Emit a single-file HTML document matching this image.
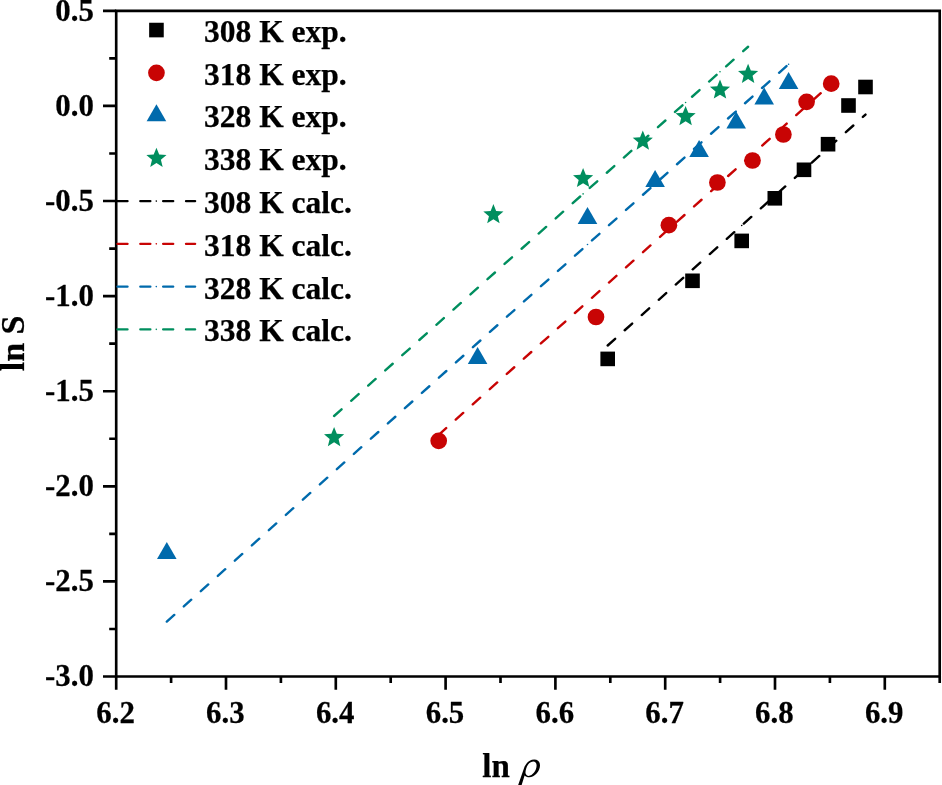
<!DOCTYPE html><html><head><meta charset="utf-8"><style>html,body{margin:0;padding:0;background:#fff;overflow:hidden;}svg{display:block;will-change:transform}</style></head><body>
<svg width="942" height="785" viewBox="0 0 942 785">
<rect width="942" height="785" fill="#fff"/>
<path d="M116.20 10.80H939.70V676.50H116.20Z" fill="none" stroke="#000" stroke-width="2.65" stroke-linejoin="miter"/>
<path d="M116.20 676.50V689.70M226.00 676.50V689.70M335.80 676.50V689.70M445.60 676.50V689.70M555.40 676.50V689.70M665.20 676.50V689.70M775.00 676.50V689.70M884.80 676.50V689.70M171.10 676.50V682.90M280.90 676.50V682.90M390.70 676.50V682.90M500.50 676.50V682.90M610.30 676.50V682.90M720.10 676.50V682.90M829.90 676.50V682.90M939.70 676.50V682.90M116.20 10.80H103.00M116.20 105.90H103.00M116.20 201.00H103.00M116.20 296.10H103.00M116.20 391.20H103.00M116.20 486.30H103.00M116.20 581.40H103.00M116.20 676.50H103.00M116.20 58.35H109.20M116.20 153.45H109.20M116.20 248.55H109.20M116.20 343.65H109.20M116.20 438.75H109.20M116.20 533.85H109.20M116.20 628.95H109.20" stroke="#000" stroke-width="2.65" fill="none"/>
<g font-family="'Liberation Serif', serif" font-weight="bold" font-size="32.5" fill="#000" stroke="#000" stroke-width="0.25" stroke-linejoin="round">
<text transform="translate(93.9 20.60) scale(0.95 1)" text-anchor="end">0.5</text>
<text transform="translate(93.9 115.70) scale(0.95 1)" text-anchor="end">0.0</text>
<text transform="translate(93.9 210.80) scale(0.95 1)" text-anchor="end">-0.5</text>
<text transform="translate(93.9 305.90) scale(0.95 1)" text-anchor="end">-1.0</text>
<text transform="translate(93.9 401.00) scale(0.95 1)" text-anchor="end">-1.5</text>
<text transform="translate(93.9 496.10) scale(0.95 1)" text-anchor="end">-2.0</text>
<text transform="translate(93.9 591.20) scale(0.95 1)" text-anchor="end">-2.5</text>
<text transform="translate(93.9 686.30) scale(0.95 1)" text-anchor="end">-3.0</text>
<text transform="translate(115.60 723.4) scale(0.95 1)" text-anchor="middle">6.2</text>
<text transform="translate(225.40 723.4) scale(0.95 1)" text-anchor="middle">6.3</text>
<text transform="translate(335.20 723.4) scale(0.95 1)" text-anchor="middle">6.4</text>
<text transform="translate(445.00 723.4) scale(0.95 1)" text-anchor="middle">6.5</text>
<text transform="translate(554.80 723.4) scale(0.95 1)" text-anchor="middle">6.6</text>
<text transform="translate(664.60 723.4) scale(0.95 1)" text-anchor="middle">6.7</text>
<text transform="translate(774.40 723.4) scale(0.95 1)" text-anchor="middle">6.8</text>
<text transform="translate(884.20 723.4) scale(0.95 1)" text-anchor="middle">6.9</text>
</g>
<text transform="translate(24.2 371.3) rotate(-90)" font-family="'Liberation Serif', serif" font-weight="bold" font-size="34" stroke="#000" stroke-width="0.25" stroke-linejoin="round">ln S</text>
<text x="482.3" y="776.8" font-family="'Liberation Serif', serif" font-weight="bold" font-size="33" stroke="#000" stroke-width="0.25" stroke-linejoin="round">ln</text>
<path fill-rule="evenodd" fill="#000" d="M518.0 785.5L523.9 768.5C525.5 763.5 529.5 759.6 534.2 759.6C538 759.6 540 762 540 765.5C540 771 534.5 777.3 529.3 777.3C527.3 777.3 525.6 776.6 524.6 775.5L521.5 785.5Z M533.5 761.4C530 761.4 527.5 764.5 526.3 768.3C525.6 770.5 525.3 772.3 525.6 773.5C526.2 775.2 527.3 775.9 528.6 775.9C532.5 775.9 536.6 770.5 536.6 765.6C536.6 763 535.3 761.4 533.5 761.4Z"/>
<line x1="607.70" y1="345.50" x2="865.50" y2="114.59" stroke="#000000" stroke-width="2.4" stroke-dasharray="10.000 12.840" stroke-linecap="round"/><circle cx="692.50" cy="269.54" r="0.8" fill="#000000"/><circle cx="741.70" cy="225.48" r="0.8" fill="#000000"/><circle cx="774.80" cy="195.83" r="0.8" fill="#000000"/><circle cx="804.00" cy="169.67" r="0.8" fill="#000000"/><circle cx="828.05" cy="148.13" r="0.8" fill="#000000"/>
<line x1="438.70" y1="434.80" x2="831.20" y2="83.83" stroke="#c80404" stroke-width="2.4" stroke-dasharray="10.000 12.840" stroke-linecap="round"/><circle cx="668.90" cy="228.96" r="0.8" fill="#c80404"/><circle cx="806.60" cy="105.82" r="0.8" fill="#c80404"/>
<line x1="166.80" y1="621.60" x2="788.60" y2="64.22" stroke="#006aac" stroke-width="2.4" stroke-dasharray="10.000 12.840" stroke-linecap="round"/><circle cx="587.50" cy="244.48" r="0.8" fill="#006aac"/><circle cx="655.10" cy="183.89" r="0.8" fill="#006aac"/><circle cx="736.20" cy="111.19" r="0.8" fill="#006aac"/><circle cx="788.60" cy="64.22" r="0.8" fill="#006aac"/>
<line x1="334.10" y1="416.00" x2="748.10" y2="46.75" stroke="#008e5e" stroke-width="2.4" stroke-dasharray="10.000 12.840" stroke-linecap="round"/><circle cx="583.10" cy="193.92" r="0.8" fill="#008e5e"/><circle cx="685.60" cy="102.50" r="0.8" fill="#008e5e"/><circle cx="720.00" cy="71.82" r="0.8" fill="#008e5e"/>
<rect x="600.40" y="351.60" width="14.6" height="14.6" fill="#000000"/>
<rect x="685.20" y="273.50" width="14.6" height="14.6" fill="#000000"/>
<rect x="734.40" y="233.60" width="14.6" height="14.6" fill="#000000"/>
<rect x="767.50" y="191.00" width="14.6" height="14.6" fill="#000000"/>
<rect x="796.70" y="162.50" width="14.6" height="14.6" fill="#000000"/>
<rect x="820.75" y="136.90" width="14.6" height="14.6" fill="#000000"/>
<rect x="841.20" y="98.20" width="14.6" height="14.6" fill="#000000"/>
<rect x="858.20" y="79.70" width="14.6" height="14.6" fill="#000000"/>
<circle cx="438.70" cy="440.80" r="8.35" fill="#c80404"/>
<circle cx="596.00" cy="317.00" r="8.35" fill="#c80404"/>
<circle cx="668.90" cy="225.20" r="8.35" fill="#c80404"/>
<circle cx="717.40" cy="182.50" r="8.35" fill="#c80404"/>
<circle cx="752.50" cy="160.50" r="8.35" fill="#c80404"/>
<circle cx="783.40" cy="134.50" r="8.35" fill="#c80404"/>
<circle cx="806.60" cy="101.80" r="8.35" fill="#c80404"/>
<circle cx="831.20" cy="83.70" r="8.35" fill="#c80404"/>
<path d="M166.80 542.11L176.60 559.09L157.00 559.09Z" fill="#006aac"/>
<path d="M477.60 347.11L487.40 364.09L467.80 364.09Z" fill="#006aac"/>
<path d="M587.50 207.01L597.30 223.99L577.70 223.99Z" fill="#006aac"/>
<path d="M655.10 170.11L664.90 187.09L645.30 187.09Z" fill="#006aac"/>
<path d="M699.10 139.91L708.90 156.89L689.30 156.89Z" fill="#006aac"/>
<path d="M736.20 111.51L746.00 128.49L726.40 128.49Z" fill="#006aac"/>
<path d="M764.20 87.51L774.00 104.49L754.40 104.49Z" fill="#006aac"/>
<path d="M788.60 71.91L798.40 88.89L778.80 88.89Z" fill="#006aac"/>
<path d="M334.10 427.00L336.84 433.83L344.18 434.32L338.54 439.04L340.33 446.18L334.10 442.26L327.87 446.18L329.66 439.04L324.02 434.32L331.36 433.83Z" fill="#008e5e"/>
<path d="M493.40 204.10L496.14 210.93L503.48 211.42L497.84 216.14L499.63 223.28L493.40 219.36L487.17 223.28L488.96 216.14L483.32 211.42L490.66 210.93Z" fill="#008e5e"/>
<path d="M583.10 167.90L585.84 174.73L593.18 175.22L587.54 179.94L589.33 187.08L583.10 183.16L576.87 187.08L578.66 179.94L573.02 175.22L580.36 174.73Z" fill="#008e5e"/>
<path d="M642.80 130.50L645.54 137.33L652.88 137.82L647.24 142.54L649.03 149.68L642.80 145.76L636.57 149.68L638.36 142.54L632.72 137.82L640.06 137.33Z" fill="#008e5e"/>
<path d="M685.60 106.00L688.34 112.83L695.68 113.32L690.04 118.04L691.83 125.18L685.60 121.26L679.37 125.18L681.16 118.04L675.52 113.32L682.86 112.83Z" fill="#008e5e"/>
<path d="M720.00 79.40L722.74 86.23L730.08 86.72L724.44 91.44L726.23 98.58L720.00 94.66L713.77 98.58L715.56 91.44L709.92 86.72L717.26 86.23Z" fill="#008e5e"/>
<path d="M748.10 63.70L750.84 70.53L758.18 71.02L752.54 75.74L754.33 82.88L748.10 78.96L741.87 82.88L743.66 75.74L738.02 71.02L745.36 70.53Z" fill="#008e5e"/>
<rect x="149.15" y="22.75" width="14.6" height="14.6" fill="#000000"/>
<circle cx="156.45" cy="72.81" r="8.35" fill="#c80404"/>
<path d="M156.45 104.25L166.25 121.23L146.65 121.23Z" fill="#006aac"/>
<path d="M156.45 147.73L159.19 154.56L166.53 155.05L160.89 159.77L162.68 166.91L156.45 162.99L150.22 166.91L152.01 159.77L146.37 155.05L153.71 154.56Z" fill="#008e5e"/>
<line x1="117.5" y1="201.09" x2="195.1" y2="201.09" stroke="#000000" stroke-width="2.4" stroke-dasharray="10.000 12.840" stroke-linecap="round"/>
<circle cx="156.30" cy="201.09" r="0.8" fill="#000000"/>
<line x1="117.5" y1="243.85" x2="195.1" y2="243.85" stroke="#c80404" stroke-width="2.4" stroke-dasharray="10.000 12.840" stroke-linecap="round"/>
<circle cx="156.30" cy="243.85" r="0.8" fill="#c80404"/>
<line x1="117.5" y1="286.61" x2="195.1" y2="286.61" stroke="#006aac" stroke-width="2.4" stroke-dasharray="10.000 12.840" stroke-linecap="round"/>
<circle cx="156.30" cy="286.61" r="0.8" fill="#006aac"/>
<line x1="117.5" y1="329.37" x2="195.1" y2="329.37" stroke="#008e5e" stroke-width="2.4" stroke-dasharray="10.000 12.840" stroke-linecap="round"/>
<circle cx="156.30" cy="329.37" r="0.8" fill="#008e5e"/>
<g font-family="'Liberation Serif', serif" font-weight="bold" font-size="31.5" fill="#000" stroke="#000" stroke-width="0.25" stroke-linejoin="round">
<text x="204" y="41.95">308 K exp.</text>
<text x="204" y="84.71">318 K exp.</text>
<text x="204" y="127.47">328 K exp.</text>
<text x="204" y="170.23">338 K exp.</text>
<text x="204" y="212.99">308 K calc.</text>
<text x="204" y="255.75">318 K calc.</text>
<text x="204" y="298.51">328 K calc.</text>
<text x="204" y="341.27">338 K calc.</text>
</g>
</svg></body></html>
